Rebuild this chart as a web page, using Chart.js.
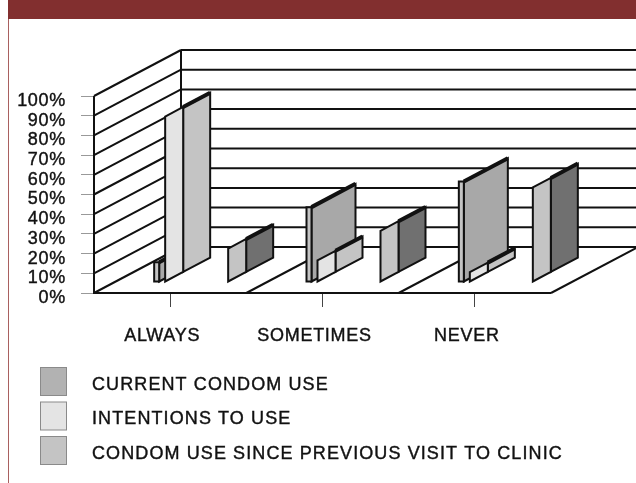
<!DOCTYPE html>
<html>
<head>
<meta charset="utf-8">
<style>html,body{margin:0;padding:0;background:#fff}canvas{display:block}</style>
<script src="https://cdn.jsdelivr.net/npm/chart.js@4"></script>
</head>
<body>
<canvas id="c" width="636" height="483"></canvas>
<script>
const categories = ['ALWAYS', 'SOMETIMES', 'NEVER'];
const seriesNames = ['CURRENT CONDOM USE', 'INTENTIONS TO USE', 'CONDOM USE SINCE PREVIOUS VISIT TO CLINIC'];
const currentUse = [10, 38, 51];
const intentions = [84, 11, 5];
const sinceVisit = [17, 26, 48];
const legendColors = ['#B2B2B2', '#E4E4E4', '#C4C4C4'];

// drawing style of each series: offset from category centre, flat front width, light face width, dark face width, colours
const shapes = [
  {off: -16, flat: 5, a: 0, b: 44, flatC: '#C4C4C4', aC: '#C4C4C4', bC: '#A8A8A8'},
  {off: -5, flat: 0, a: 18, b: 27, flatC: '#E4E4E4', aC: '#E4E4E4', bC: '#C4C4C4'},
  {off: 58, flat: 0, a: 18, b: 27, flatC: '#C4C4C4', aC: '#C4C4C4', bC: '#707070'}
];
const SHEAR = 0.53, DEPTH_X = 87, DEPTH_Y = 46, BAR_SHIFT = 11, INK = '#111';
let currentDataset = 0;

function poly(ctx, pts, fill, lw) {
  ctx.beginPath();
  pts.forEach((p, i) => i ? ctx.lineTo(p[0], p[1]) : ctx.moveTo(p[0], p[1]));
  ctx.closePath();
  ctx.fillStyle = fill; ctx.fill();
  ctx.strokeStyle = INK; ctx.lineWidth = lw; ctx.lineJoin = 'miter'; ctx.stroke();
}
function seg(ctx, x1, y1, x2, y2, lw, color) {
  ctx.beginPath(); ctx.moveTo(x1, y1); ctx.lineTo(x2, y2);
  ctx.strokeStyle = color || INK; ctx.lineWidth = lw; ctx.stroke();
}

// Bars are real Chart.js elements: each one paints itself as sheared faces from its own x / y / base.
Chart.BarElement.prototype.draw = function (ctx) {
  const s = shapes[currentDataset];
  const top = this.y - BAR_SHIFT, bot = this.base - BAR_SHIFT;
  const x0 = this.x + s.off, x1 = x0 + s.flat, x2 = x1 + s.a, x3 = x2 + s.b;
  const r1 = s.a * SHEAR, r2 = (s.a + s.b) * SHEAR;
  ctx.save();
  poly(ctx, [[x2, top - r1], [x3, top - r2], [x3, bot - r2], [x2, bot - r1]], s.bC, 2);
  seg(ctx, x2, top - r1, x3, top - r2, 4);
  if (s.a) poly(ctx, [[x1, top], [x2, top - r1], [x2, bot - r1], [x1, bot]], s.aC, 2);
  if (s.flat) poly(ctx, [[x0, top], [x1, top], [x1, bot], [x0, bot]], s.flatC, 2);
  ctx.restore();
};

const walls = {
  id: 'walls',
  beforeDraw(chart) {
    const ctx = chart.ctx;
    ctx.save();
    ctx.fillStyle = '#fff'; ctx.fillRect(0, 0, chart.width, chart.height);
    ctx.fillStyle = '#822F2F'; ctx.fillRect(8, 0, chart.width - 8, 19);
    ctx.fillStyle = '#A9605F'; ctx.fillRect(8, 19, 1, chart.height - 19);
    ctx.restore();
    ctx.letterSpacing = '0.7px';
  },
  beforeDatasetsDraw(chart) {
    const ctx = chart.ctx, a = chart.chartArea, y = chart.scales.y, x = chart.scales.x;
    ctx.save();
    ctx.lineCap = 'butt';
    y.ticks.forEach(t => {
      const p = y.getPixelForValue(t.value);
      seg(ctx, a.left + DEPTH_X, p - DEPTH_Y, chart.width, p - DEPTH_Y, 2);
      seg(ctx, a.left, p, a.left + DEPTH_X, p - DEPTH_Y, 2);
    });
    seg(ctx, a.left, a.top, a.left, a.bottom, 2);
    seg(ctx, a.left + DEPTH_X, a.top - DEPTH_Y, a.left + DEPTH_X, a.bottom - DEPTH_Y, 2);
    seg(ctx, a.left - 1, a.bottom, a.right, a.bottom, 2);
    const step = x.getPixelForValue(1) - x.getPixelForValue(0);
    categories.forEach((c, i) => {
      const bx = x.getPixelForValue(i) + step / 2;
      seg(ctx, bx, a.bottom, bx + DEPTH_X, a.bottom - DEPTH_Y, 2);
    });
    ctx.restore();
  },
  beforeDatasetDraw(chart, args) { currentDataset = args.index; },
  afterDraw(chart) {
    const ctx = chart.ctx;
    ctx.save();
    chart.data.datasets.forEach((d, i) => {
      const top = 367 + i * 34.5;
      ctx.fillStyle = legendColors[i];
      ctx.fillRect(40.5, top + .5, 26, 28);
      ctx.strokeStyle = '#8a8a8a'; ctx.lineWidth = 1;
      ctx.strokeRect(40.5, top + .5, 26, 28);
      ctx.fillStyle = '#111';
      ctx.font = '18px "Liberation Sans"';
      ctx.letterSpacing = '1.1px';
      ctx.textAlign = 'left'; ctx.textBaseline = 'middle';
      ctx.strokeStyle = '#111'; ctx.lineWidth = 0.4;
      ctx.fillText(d.label, 92, top + 18);
      ctx.strokeText(d.label, 92, top + 18);
    });
    ctx.restore();
  }
};

const chart = new Chart(document.getElementById('c'), {
  type: 'bar',
  data: {
    labels: categories,
    datasets: [
      {label: seriesNames[0], data: currentUse, order: 3, clip: false},
      {label: seriesNames[1], data: intentions, order: 2, clip: false},
      {label: seriesNames[2], data: sinceVisit, order: 1, clip: false}
    ]
  },
  options: {
    responsive: false,
    animation: false,
    layout: {padding: {left: 0, right: 85, top: 96, bottom: 0}},
    plugins: {legend: {display: false}, tooltip: {enabled: false}, title: {display: false}},
    datasets: {bar: {grouped: false}},
    scales: {
      x: {
        offset: true,
        afterFit(s) { s.height = 190; },
        grid: {offset: false, drawOnChartArea: false, drawTicks: true, tickLength: 14, tickColor: '#444', tickWidth: 1},
        border: {display: false},
        ticks: {color: '#111', padding: 18, labelOffset: -8, maxRotation: 0, textStrokeColor: '#111', textStrokeWidth: 0.4, font: {family: '"Liberation Sans"', size: 18}}
      },
      y: {
        min: 0, max: 100,
        afterFit(s) { s.width = 94; },
        grid: {drawOnChartArea: false, drawTicks: true, tickLength: 13, tickColor: '#999', tickWidth: 1},
        border: {display: false},
        ticks: {stepSize: 10, autoSkip: false, color: '#111', padding: 15, labelOffset: 5, textStrokeColor: '#111', textStrokeWidth: 0.4, callback: v => v + '%', font: {family: '"Liberation Sans"', size: 18}}
      }
    }
  },
  plugins: [walls]
});
</script>
</body>
</html>
